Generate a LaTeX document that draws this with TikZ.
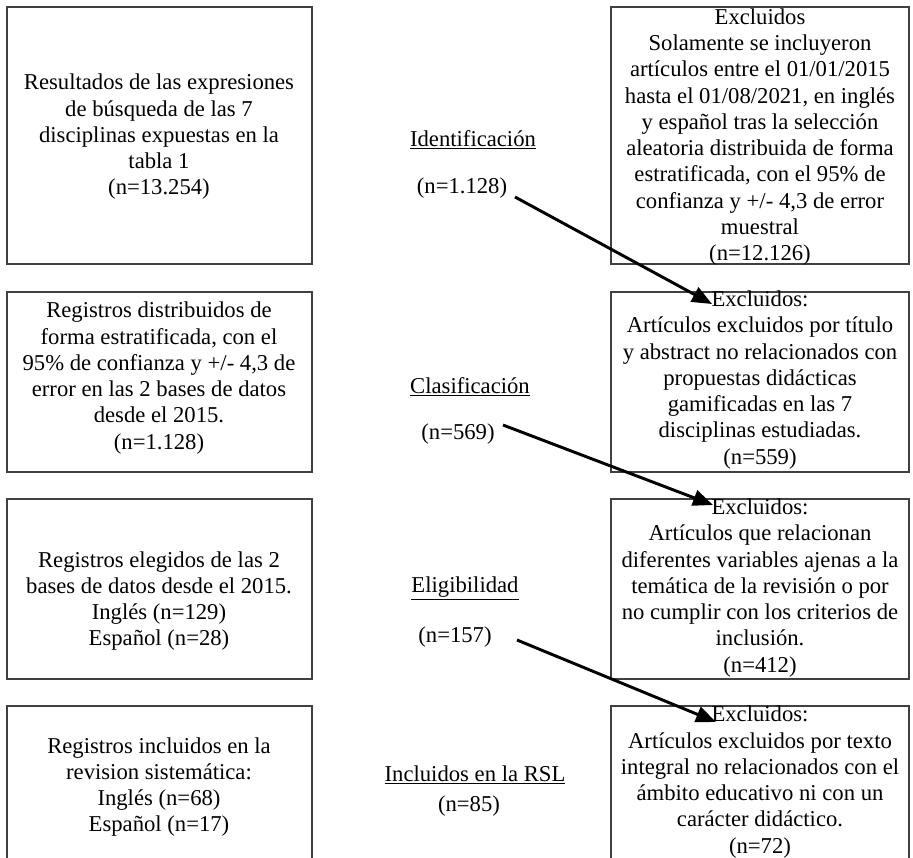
\documentclass[tikz,border=0pt]{standalone}
\usepackage{fontspec}
\setmainfont{Liberation Serif}
\usetikzlibrary{arrows.meta}
\begin{document}
\begin{tikzpicture}[x=0.75pt,y=-0.75pt,
  box/.style={draw=black!75, line width=1pt, rectangle, inner sep=0pt},
  lbox/.style={box, minimum width=228.75pt},
  rbox/.style={box, minimum width=223.5pt},
  txt/.style={align=center, font=\fontsize{17}{19.7}\selectfont, inner sep=0pt},
  arr/.style={line width=2.2pt, -{Triangle[length=15pt,width=12pt]}}]
\useasboundingbox (0,0) rectangle (913,857);
\clip (0,0) rectangle (913,857);
\fill[white] (0,0) rectangle (913,857);
% left boxes
\node[lbox, minimum height=192.75pt] (L1) at (159.5,135.5) {};
\node[lbox, minimum height=135pt] (L2) at (159.5,382) {};
\node[lbox, minimum height=135pt] (L3) at (159.5,589) {};
\node[lbox, minimum height=130.5pt] (L4) at (159.5,793) {};
% right boxes
\node[rbox, minimum height=192.75pt] (R1) at (760,135.5) {};
\node[rbox, minimum height=135pt] (R2) at (760,382) {};
\node[rbox, minimum height=135pt] (R3) at (760,589) {};
\node[rbox, minimum height=130.5pt] (R4) at (760,793) {};
% left texts
\node[txt] (L1t) at (159,137) {Resultados de las expresiones\\de búsqueda de las 7\\disciplinas expuestas en la\\tabla 1\\(n=13.254)};
\node[txt] (L2t) at (159,378) {Registros distribuidos de\\forma estratificada, con el\\95\% de confianza y +/- 4,3 de\\error en las 2 bases de datos\\desde el 2015.\\(n=1.128)};
\node[txt] (L3t) at (159,601) {Registros elegidos de las 2\\bases de datos desde el 2015.\\Inglés (n=129)\\Español (n=28)};
\node[txt] (L4t) at (159,787) {Registros incluidos en la\\revision sistemática:\\Inglés (n=68)\\Español (n=17)};
% right texts
\node[txt] (R1t) at (760,137) {Excluidos\\Solamente se incluyeron\\artículos entre el 01/01/2015\\hasta el 01/08/2021, en inglés\\y español tras la selección\\aleatoria distribuida de forma\\estratificada, con el 95\% de\\confianza y +/- 4,3 de error\\muestral\\(n=12.126)};
\node[txt] (R2t) at (760,380) {Excluidos:\\Artículos excluidos por título\\y abstract no relacionados con\\propuestas didácticas\\gamificadas en las 7\\disciplinas estudiadas.\\(n=559)};
\node[txt] (R3t) at (760,588) {Excluidos:\\Artículos que relacionan\\diferentes variables ajenas a la\\temática de la revisión o por\\no cumplir con los criterios de\\inclusión.\\(n=412)};
\node[txt] (R4t) at (760,782) {Excluidos:\\Artículos excluidos por texto\\integral no relacionados con el\\ámbito educativo ni con un\\carácter didáctico.\\(n=72)};
% middle labels
\node[txt] (M1) at (473,140) {\underline{Identificación}};
\node[txt] (M1n) at (462,188) {(n=1.128)};
\node[txt] (M2) at (470,387) {\underline{Clasificación}};
\node[txt] (M2n) at (458,434) {(n=569)};
\node[txt] (M3) at (465,588) {\underline{Eligibilidad}};
\node[txt] (M3n) at (455,637) {(n=157)};
\node[txt] (M4) at (475,775) {\underline{Incluidos en la RSL}};
\node[txt] (M4n) at (469,806) {(n=85)};
% arrows
\coordinate (a1s) at (515,197);
\coordinate (a1e) at (712,304);
\coordinate (a2s) at (503,425);
\coordinate (a2e) at (713,505);
\coordinate (a3s) at (517,640);
\coordinate (a3e) at (716,722);
\draw[arr] (a1s) -- (a1e);
\draw[arr] (a2s) -- (a2e);
\draw[arr] (a3s) -- (a3e);
\end{tikzpicture}
\end{document}
